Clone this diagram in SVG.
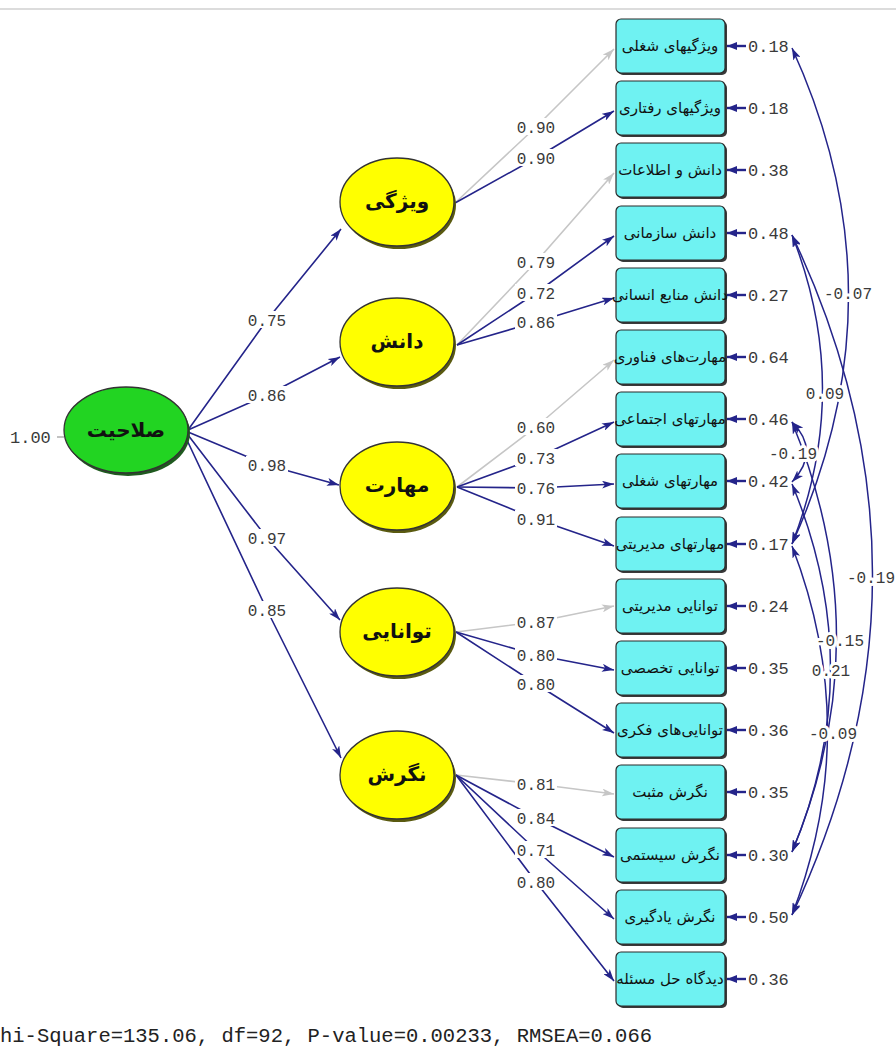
<svg xmlns="http://www.w3.org/2000/svg" width="896" height="1050" viewBox="0 0 896 1050">
<style>
.bg{fill:#ffffff}
.lb{fill:#ffffff}
.num{font-family:"Liberation Mono","DejaVu Sans Mono",monospace;font-size:16px;fill:#3a3a3a;text-anchor:middle}
.cor{font-family:"Liberation Mono","DejaVu Sans Mono",monospace;font-size:16px;fill:#3a3a3a;text-anchor:middle;paint-order:stroke;stroke:#ffffff;stroke-width:6px;stroke-linejoin:round}
.val{font-family:"Liberation Mono","DejaVu Sans Mono",monospace;font-size:17px;fill:#3a3a3a}
.box{fill:#6ff2f2;stroke:#2b2b2b;stroke-width:1.2}
.boxsh{fill:#3a3a3a}
.btxt{font-family:"DejaVu Sans","Noto Sans",sans-serif;font-size:15px;fill:#111;text-anchor:middle}
.lat{fill:#ffff00;stroke:#333;stroke-width:1.3}
.latsh{fill:#5a5a10}
.ltxt{font-family:"DejaVu Sans","Noto Sans",sans-serif;font-size:20px;font-weight:bold;fill:#111;text-anchor:middle}
.blue{fill:none;stroke:#24248a;stroke-width:1.6}
.gray{fill:none;stroke:#c6c6c6;stroke-width:1.6}
.err{fill:none;stroke:#24248a;stroke-width:2.4}
.arc{fill:none;stroke:#24248a;stroke-width:1.5}
</style>
<defs>
<marker id="ab" viewBox="0 0 12 8" refX="12" refY="4" markerWidth="12" markerHeight="8" markerUnits="userSpaceOnUse" orient="auto-start-reverse"><path d="M0,0 L12,4 L0,8 L3,4 z" fill="#24248a"/></marker>
<marker id="ag" viewBox="0 0 12 8" refX="12" refY="4" markerWidth="12" markerHeight="8" markerUnits="userSpaceOnUse" orient="auto"><path d="M0,0 L12,4 L0,8 L3,4 z" fill="#c6c6c6"/></marker>
<marker id="ae" viewBox="0 0 10 8" refX="10" refY="4" markerWidth="10" markerHeight="8" markerUnits="userSpaceOnUse" orient="auto"><path d="M0,0 L10,4 L0,8 z" fill="#24248a"/></marker>
</defs>
<rect class="bg" x="0" y="0" width="896" height="1050"/>
<line x1="0" y1="9" x2="896" y2="9" stroke="#dcdcdc" stroke-width="2"/>

<g id="connectors">
<line x1="57" y1="437" x2="64" y2="437" stroke="#999" stroke-width="1.2"/>
<polyline class="blue" points="188,430 267,320 341,229" marker-end="url(#ab)"/>
<polyline class="blue" points="188,430 267,395 340,357" marker-end="url(#ab)"/>
<polyline class="blue" points="188,432 267,465 339,485" marker-end="url(#ab)"/>
<polyline class="blue" points="188,435 267,538 340,620" marker-end="url(#ab)"/>
<polyline class="blue" points="186,438 267,610 341,758" marker-end="url(#ab)"/>
<polyline class="gray" points="455,203 536,127 614,49" marker-end="url(#ag)"/>
<polyline class="blue" points="455,203 536,158 614,111" marker-end="url(#ab)"/>
<polyline class="gray" points="457,345 536,262 614,173" marker-end="url(#ag)"/>
<polyline class="blue" points="457,345 536,293 614,236" marker-end="url(#ab)"/>
<polyline class="blue" points="457,345 536,322 614,298" marker-end="url(#ab)"/>
<polyline class="gray" points="457,487 536,427 614,360" marker-end="url(#ag)"/>
<polyline class="blue" points="457,487 536,458 614,422" marker-end="url(#ab)"/>
<polyline class="blue" points="457,487 536,488 614,484" marker-end="url(#ab)"/>
<polyline class="blue" points="457,487 536,519 614,546" marker-end="url(#ab)"/>
<polyline class="gray" points="456,632 536,622 614,606" marker-end="url(#ag)"/>
<polyline class="blue" points="456,632 536,655 614,670" marker-end="url(#ab)"/>
<polyline class="blue" points="456,632 536,684 614,733" marker-end="url(#ab)"/>
<polyline class="gray" points="456,775 536,784 614,794" marker-end="url(#ag)"/>
<polyline class="blue" points="456,775 536,818 614,857" marker-end="url(#ab)"/>
<polyline class="blue" points="456,775 536,850 614,919" marker-end="url(#ab)"/>
<polyline class="blue" points="456,775 536,882 614,981" marker-end="url(#ab)"/>
<g marker-end="url(#ae)">
<line class="err" x1="746" y1="46" x2="727" y2="46"/>
<line class="err" x1="746" y1="108" x2="727" y2="108"/>
<line class="err" x1="746" y1="170" x2="727" y2="170"/>
<line class="err" x1="746" y1="233" x2="727" y2="233"/>
<line class="err" x1="746" y1="295" x2="727" y2="295"/>
<line class="err" x1="746" y1="357" x2="727" y2="357"/>
<line class="err" x1="746" y1="419" x2="727" y2="419"/>
<line class="err" x1="746" y1="481" x2="727" y2="481"/>
<line class="err" x1="746" y1="544" x2="727" y2="544"/>
<line class="err" x1="746" y1="606" x2="727" y2="606"/>
<line class="err" x1="746" y1="668" x2="727" y2="668"/>
<line class="err" x1="746" y1="730" x2="727" y2="730"/>
<line class="err" x1="746" y1="792" x2="727" y2="792"/>
<line class="err" x1="746" y1="855" x2="727" y2="855"/>
<line class="err" x1="746" y1="917" x2="727" y2="917"/>
<line class="err" x1="746" y1="979" x2="727" y2="979"/>
</g>
<g marker-start="url(#ab)" marker-end="url(#ab)">
<path class="arc" d="M792,48 Q905,295 792,544"/>
<path class="arc" d="M792,235 Q853,389 792,544"/>
<path class="arc" d="M792,422 Q821,451 792,482"/>
<path class="arc" d="M792,235 Q953,574 792,915"/>
<path class="arc" d="M792,422 Q881,638 792,852"/>
<path class="arc" d="M792,484 Q869,669 792,852"/>
<path class="arc" d="M792,546 Q863,730 792,915"/>
</g>
</g>

<g id="node-salahiat">
<ellipse cx="128" cy="433" rx="62" ry="43" fill="#1f5a1f"/>
<ellipse cx="126" cy="430" rx="62" ry="43" fill="#22d422" stroke="#333" stroke-width="1.3"/>
<text class="ltxt" x="126" y="437" font-size="22">صلاحیت</text>
</g>
<g id="node-vizhegi"><ellipse class="latsh" cx="399" cy="205" rx="57" ry="44"/><ellipse class="lat" cx="397" cy="202" rx="57" ry="44"/><text class="ltxt" x="397" y="208">ویژگی</text></g>
<g id="node-danesh"><ellipse class="latsh" cx="399" cy="345" rx="57" ry="44"/><ellipse class="lat" cx="397" cy="342" rx="57" ry="44"/><text class="ltxt" x="397" y="348">دانش</text></g>
<g id="node-maharat"><ellipse class="latsh" cx="399" cy="489" rx="57" ry="44"/><ellipse class="lat" cx="397" cy="486" rx="57" ry="44"/><text class="ltxt" x="397" y="492">مهارت</text></g>
<g id="node-tavanaei"><ellipse class="latsh" cx="399" cy="635" rx="57" ry="44"/><ellipse class="lat" cx="397" cy="632" rx="57" ry="44"/><text class="ltxt" x="397" y="638">توانایی</text></g>
<g id="node-negaresh"><ellipse class="latsh" cx="399" cy="778" rx="57" ry="44"/><ellipse class="lat" cx="397" cy="775" rx="57" ry="44"/><text class="ltxt" x="397" y="781">نگرش</text></g>

<g id="box1"><rect class="boxsh" x="618" y="21" width="109" height="54" rx="5"/><rect class="box" x="616" y="19" width="109" height="54" rx="5"/><text class="btxt" x="670" y="51">ویژگیهای شغلی</text></g>
<g id="box2"><rect class="boxsh" x="618" y="83" width="109" height="54" rx="5"/><rect class="box" x="616" y="81" width="109" height="54" rx="5"/><text class="btxt" x="670" y="113">ویژگیهای رفتاری</text></g>
<g id="box3"><rect class="boxsh" x="618" y="145" width="109" height="54" rx="5"/><rect class="box" x="616" y="143" width="109" height="54" rx="5"/><text class="btxt" x="670" y="175">دانش و اطلاعات</text></g>
<g id="box4"><rect class="boxsh" x="618" y="208" width="109" height="54" rx="5"/><rect class="box" x="616" y="206" width="109" height="54" rx="5"/><text class="btxt" x="670" y="238">دانش سازمانی</text></g>
<g id="box5"><rect class="boxsh" x="618" y="270" width="109" height="54" rx="5"/><rect class="box" x="616" y="268" width="109" height="54" rx="5"/><text class="btxt" x="670" y="300" font-size="14">دانش منابع انسانی</text></g>
<g id="box6"><rect class="boxsh" x="618" y="332" width="109" height="54" rx="5"/><rect class="box" x="616" y="330" width="109" height="54" rx="5"/><text class="btxt" x="670" y="362">مهارت‌های فناوری</text></g>
<g id="box7"><rect class="boxsh" x="618" y="394" width="109" height="54" rx="5"/><rect class="box" x="616" y="392" width="109" height="54" rx="5"/><text class="btxt" x="670" y="424" font-size="14">مهارتهای اجتماعی</text></g>
<g id="box8"><rect class="boxsh" x="618" y="456" width="109" height="54" rx="5"/><rect class="box" x="616" y="454" width="109" height="54" rx="5"/><text class="btxt" x="670" y="486">مهارتهای شغلی</text></g>
<g id="box9"><rect class="boxsh" x="618" y="519" width="109" height="54" rx="5"/><rect class="box" x="616" y="517" width="109" height="54" rx="5"/><text class="btxt" x="670" y="549" font-size="14">مهارتهای مدیریتی</text></g>
<g id="box10"><rect class="boxsh" x="618" y="581" width="109" height="54" rx="5"/><rect class="box" x="616" y="579" width="109" height="54" rx="5"/><text class="btxt" x="670" y="611">توانایی مدیریتی</text></g>
<g id="box11"><rect class="boxsh" x="618" y="643" width="109" height="54" rx="5"/><rect class="box" x="616" y="641" width="109" height="54" rx="5"/><text class="btxt" x="670" y="673">توانایی تخصصی</text></g>
<g id="box12"><rect class="boxsh" x="618" y="705" width="109" height="54" rx="5"/><rect class="box" x="616" y="703" width="109" height="54" rx="5"/><text class="btxt" x="670" y="735">توانایی‌های فکری</text></g>
<g id="box13"><rect class="boxsh" x="618" y="767" width="109" height="54" rx="5"/><rect class="box" x="616" y="765" width="109" height="54" rx="5"/><text class="btxt" x="670" y="797">نگرش مثبت</text></g>
<g id="box14"><rect class="boxsh" x="618" y="830" width="109" height="54" rx="5"/><rect class="box" x="616" y="828" width="109" height="54" rx="5"/><text class="btxt" x="670" y="860">نگرش سیستمی</text></g>
<g id="box15"><rect class="boxsh" x="618" y="892" width="109" height="54" rx="5"/><rect class="box" x="616" y="890" width="109" height="54" rx="5"/><text class="btxt" x="670" y="922">نگرش یادگیری</text></g>
<g id="box16"><rect class="boxsh" x="618" y="954" width="109" height="54" rx="5"/><rect class="box" x="616" y="952" width="109" height="54" rx="5"/><text class="btxt" x="670" y="984">دیدگاه حل مسئله</text></g>

<g id="labels">
<text class="val" x="10" y="443">1.00</text>
<g class="lb">
<rect x="246" y="311" width="42" height="17"/>
<rect x="246" y="386" width="42" height="17"/>
<rect x="246" y="456" width="42" height="17"/>
<rect x="246" y="529" width="42" height="17"/>
<rect x="246" y="601" width="42" height="17"/>
<rect x="515" y="118" width="42" height="17"/>
<rect x="515" y="149" width="42" height="17"/>
<rect x="515" y="253" width="42" height="17"/>
<rect x="515" y="284" width="42" height="17"/>
<rect x="515" y="313" width="42" height="17"/>
<rect x="515" y="418" width="42" height="17"/>
<rect x="515" y="449" width="42" height="17"/>
<rect x="515" y="479" width="42" height="17"/>
<rect x="515" y="510" width="42" height="17"/>
<rect x="515" y="613" width="42" height="17"/>
<rect x="515" y="646" width="42" height="17"/>
<rect x="515" y="675" width="42" height="17"/>
<rect x="515" y="775" width="42" height="17"/>
<rect x="515" y="809" width="42" height="17"/>
<rect x="515" y="841" width="42" height="17"/>
<rect x="515" y="873" width="42" height="17"/>
</g>
<text class="num" x="267" y="326">0.75</text>
<text class="num" x="267" y="401">0.86</text>
<text class="num" x="267" y="471">0.98</text>
<text class="num" x="267" y="544">0.97</text>
<text class="num" x="267" y="616">0.85</text>
<text class="num" x="536" y="133">0.90</text>
<text class="num" x="536" y="164">0.90</text>
<text class="num" x="536" y="268">0.79</text>
<text class="num" x="536" y="299">0.72</text>
<text class="num" x="536" y="328">0.86</text>
<text class="num" x="536" y="433">0.60</text>
<text class="num" x="536" y="464">0.73</text>
<text class="num" x="536" y="494">0.76</text>
<text class="num" x="536" y="525">0.91</text>
<text class="num" x="536" y="628">0.87</text>
<text class="num" x="536" y="661">0.80</text>
<text class="num" x="536" y="690">0.80</text>
<text class="num" x="536" y="790">0.81</text>
<text class="num" x="536" y="824">0.84</text>
<text class="num" x="536" y="856">0.71</text>
<text class="num" x="536" y="888">0.80</text>
<text class="val" x="748" y="52">0.18</text>
<text class="val" x="748" y="114">0.18</text>
<text class="val" x="748" y="176">0.38</text>
<text class="val" x="748" y="239">0.48</text>
<text class="val" x="748" y="301">0.27</text>
<text class="val" x="748" y="363">0.64</text>
<text class="val" x="748" y="425">0.46</text>
<text class="val" x="748" y="487">0.42</text>
<text class="val" x="748" y="550">0.17</text>
<text class="val" x="748" y="612">0.24</text>
<text class="val" x="748" y="674">0.35</text>
<text class="val" x="748" y="736">0.36</text>
<text class="val" x="748" y="798">0.35</text>
<text class="val" x="748" y="861">0.30</text>
<text class="val" x="748" y="923">0.50</text>
<text class="val" x="748" y="985">0.36</text>
<text class="cor" x="848" y="299">-0.07</text>
<text class="cor" x="825" y="399">0.09</text>
<text class="cor" x="793" y="459">-0.19</text>
<text class="cor" x="871" y="583">-0.19</text>
<text class="cor" x="840" y="646">-0.15</text>
<text class="cor" x="831" y="676">0.21</text>
<text class="cor" x="833" y="739">-0.09</text>
<text x="0" y="1042" font-family="Liberation Mono, monospace" font-size="20.5" fill="#222">hi-Square=135.06, df=92, P-value=0.00233, RMSEA=0.066</text>
</g>
</svg>
